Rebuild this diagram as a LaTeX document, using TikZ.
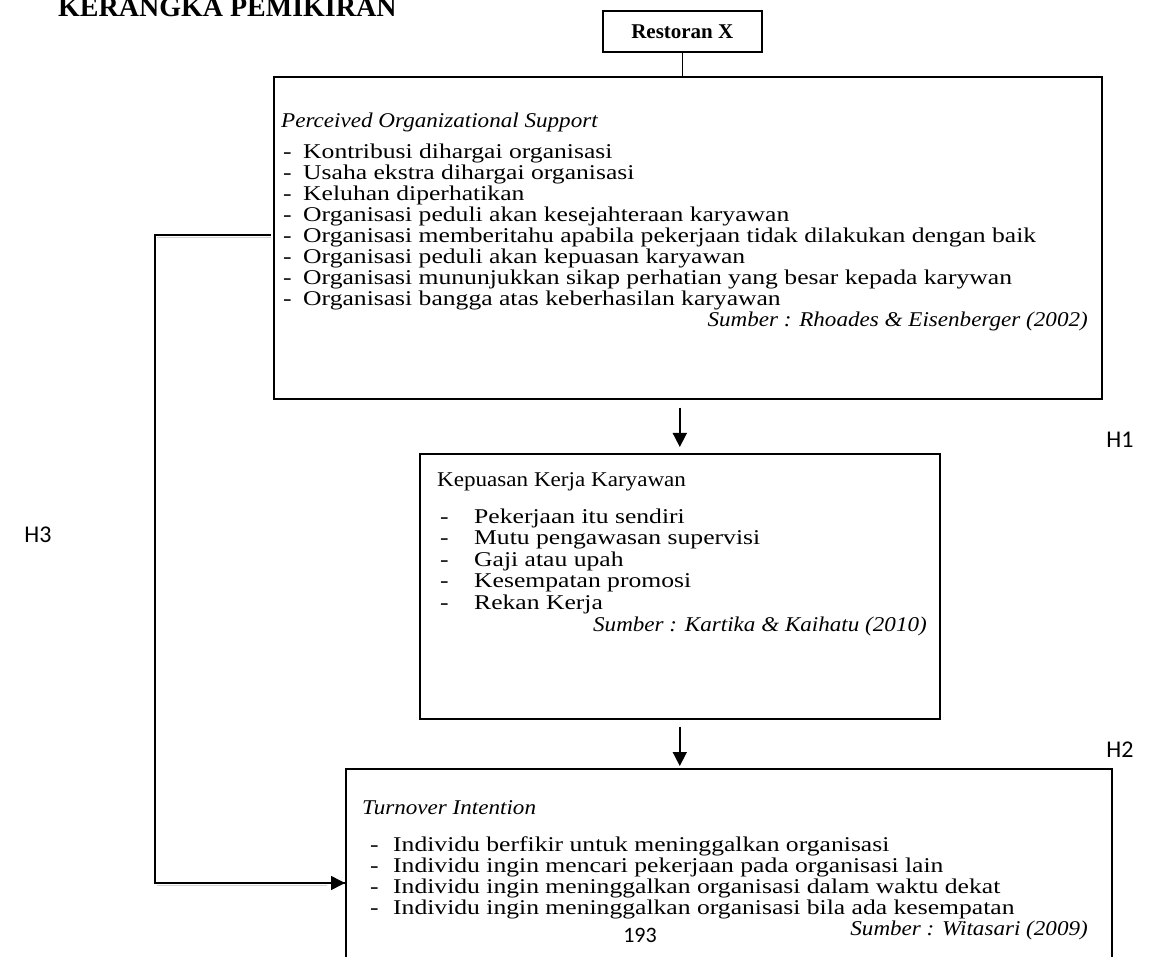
\documentclass[tikz,border=0pt]{standalone}
\usepackage{fontspec}
\setmainfont{Liberation Serif}
\newfontfamily\bodyfont[FakeStretch=1.22]{Liberation Serif}
\newfontfamily\headfont[FakeStretch=1.1]{Liberation Serif}
\newfontfamily\srcfont[FakeStretch=1.1]{Liberation Serif}
\newfontfamily\calib{Carlito}
\usetikzlibrary{arrows.meta}
\begin{document}
\begin{tikzpicture}[x=1pt,y=-1pt,
  box/.style={draw,line width=1.6pt,inner sep=0pt,anchor=north west},
  head/.style={font=\headfont\fontsize{21}{21}\selectfont,anchor=base west,inner sep=0pt},
  body/.style={font=\bodyfont\fontsize{21}{21}\selectfont,anchor=base west,inner sep=0pt},
  src/.style={font=\srcfont\fontsize{21}{21}\selectfont\itshape,anchor=base east,inner sep=0pt},
  hyp/.style={font=\calib\fontsize{24}{24}\selectfont,inner sep=0pt},
  conn/.style={line width=1.6pt},
  shadow/.style={line width=1.4pt,gray!35},
  arr/.style={line width=1.6pt,-{Triangle[length=14pt,width=14pt]}}]
\useasboundingbox (0,0) rectangle (1152,957);

% title
\node[anchor=base west,font=\bfseries\fontsize{28}{28}\selectfont,inner sep=0pt] (title) at (58,17) {KERANGKA PEMIKIRAN};

% Restoran X
\node[box,minimum width=159pt,minimum height=41pt] (rest) at (602,10) {};
\node[font=\bfseries\fontsize{21}{21}\selectfont,inner sep=0pt] (restt) at (rest.center) {Restoran X};

% POS box
\node[box,minimum width=828pt,minimum height=322pt] (pos) at (273,76) {};
\draw[conn] (rest.south) -- (rest.south |- pos.north);
\node[head,font=\headfont\fontsize{21}{21}\selectfont\itshape] (post) at (281,128) {Perceived Organizational Support};
\foreach \t [count=\i] in {Kontribusi dihargai organisasi,
  Usaha ekstra dihargai organisasi,
  Keluhan diperhatikan,
  Organisasi peduli akan kesejahteraan karyawan,
  Organisasi memberitahu apabila pekerjaan tidak dilakukan dengan baik,
  Organisasi peduli akan kepuasan karyawan,
  Organisasi mununjukkan sikap perhatian yang besar kepada karywan,
  Organisasi bangga atas keberhasilan karyawan}{
  \node[body] (posd\i) at (283,{159+21*(\i-1)}) {-};
  \node[body] (posi\i) at (303,{159+21*(\i-1)}) {\t};
}
\node[src] (poss) at (1088,327) {Sumber : Rhoades \& Eisenberger (2002)};

% KKK box
\node[box,minimum width=520pt,minimum height=265pt] (kkk) at (419,453) {};
\node[head] (kkkt) at (437,486) {Kepuasan Kerja Karyawan};
\foreach \t [count=\i] in {Pekerjaan itu sendiri,
  Mutu pengawasan supervisi,
  Gaji atau upah,
  Kesempatan promosi,
  Rekan Kerja}{
  \node[body] (kkkd\i) at (440,{523+21.5*(\i-1)}) {-};
  \node[body] (kkki\i) at (474,{523+21.5*(\i-1)}) {\t};
}
\node[src] (kkks) at (927,631) {Sumber : Kartika \& Kaihatu (2010)};

% Turnover box
\node[box,minimum width=766pt,minimum height=200pt] (tur) at (345,768) {};
\node[head,font=\headfont\fontsize{21}{21}\selectfont\itshape] (turt) at (362,814) {Turnover Intention};
\foreach \t [count=\i] in {Individu berfikir untuk meninggalkan organisasi,
  Individu ingin mencari pekerjaan pada organisasi lain,
  Individu ingin meninggalkan organisasi dalam waktu dekat,
  Individu ingin meninggalkan organisasi bila ada kesempatan}{
  \node[body] (turd\i) at (370,{851+21.3*(\i-1)}) {-};
  \node[body] (turi\i) at (393,{851+21.3*(\i-1)}) {\t};
}
\node[src] (turs) at (1088,935) {Sumber : Witasari (2009)};

% arrows
\draw[arr] ([yshift=-8pt]kkk.north |- pos.south) -- ([yshift=6pt]kkk.north);
\draw[arr] ([yshift=-7pt]kkk.south) -- ([yshift=2pt]kkk.south |- tur.north);

% H3 connector
\coordinate (h3s) at (271,235);
\coordinate (h3a) at (155,235);
\coordinate (h3b) at (155,883);
\draw[shadow] ([shift={(2,2.5)}]h3a) -- ([shift={(0,2.5)}]h3s);
\draw[shadow] ([shift={(2,2.5)}]h3b) -- ([shift={(-18,2.5)}]h3b -| tur.west);
\draw[conn,line join=miter] (h3s) -- (h3a) -- (h3b) -- (h3b -| tur.west);
\draw[arr] ([xshift=-20pt]h3b -| tur.west) -- (h3b -| tur.west);

% labels
\node[hyp] (h1) at (1120,440) {H1};
\node[hyp] (h2) at (1120,750) {H2};
\node[hyp] (h3) at (38,535) {H3};
\node[hyp,font=\calib\fontsize{22}{22}\selectfont] (pg) at (640,935) {193};
\end{tikzpicture}
\end{document}
